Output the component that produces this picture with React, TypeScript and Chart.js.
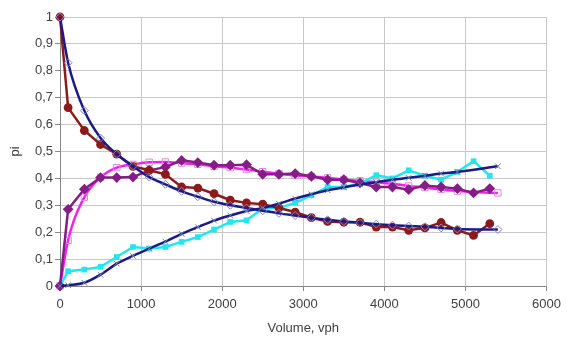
import React, { useEffect, useRef } from "react";
import { Chart, registerables } from "chart.js";

Chart.register(...registerables);

// Observed volumes (vph)
const X_OBS = [0, 100, 300, 500, 700, 900, 1100, 1300, 1500, 1700, 1900, 2100, 2300, 2500, 2700, 2900, 3100, 3300, 3500, 3700, 3900, 4100, 4300, 4500, 4700, 4900, 5100, 5300];
// Model volumes (vph)
const X_MODEL = [0, 100, 300, 500, 700, 900, 1100, 1300, 1500, 1700, 1900, 2100, 2300, 2500, 2700, 2900, 3100, 3300, 3500, 3700, 3900, 4100, 4300, 4500, 4700, 4900, 5400];

const OBS_MAROON = [1, 0.663, 0.578, 0.526, 0.49, 0.445, 0.43, 0.415, 0.368, 0.364, 0.343, 0.319, 0.309, 0.304, 0.29, 0.275, 0.254, 0.24, 0.237, 0.237, 0.219, 0.219, 0.207, 0.216, 0.236, 0.207, 0.188, 0.232];
const OBS_PURPLE = [0, 0.285, 0.36, 0.403, 0.403, 0.405, 0.43, 0.442, 0.467, 0.459, 0.449, 0.449, 0.451, 0.415, 0.415, 0.418, 0.408, 0.395, 0.395, 0.383, 0.368, 0.368, 0.358, 0.374, 0.368, 0.362, 0.346, 0.362];
const OBS_CYAN = [0, 0.055, 0.061, 0.071, 0.108, 0.145, 0.139, 0.145, 0.164, 0.182, 0.21, 0.238, 0.244, 0.288, 0.29, 0.309, 0.337, 0.368, 0.368, 0.381, 0.412, 0.4, 0.43, 0.41, 0.395, 0.424, 0.464, 0.41];

const MODEL_DOWN = [1, 0.83, 0.652, 0.55, 0.49, 0.445, 0.405, 0.378, 0.352, 0.332, 0.313, 0.3, 0.29, 0.28, 0.27, 0.262, 0.254, 0.246, 0.24, 0.235, 0.23, 0.226, 0.223, 0.22, 0.216, 0.212, 0.21];
const MODEL_UP = [0, 0.003, 0.012, 0.042, 0.083, 0.112, 0.139, 0.165, 0.194, 0.219, 0.243, 0.262, 0.279, 0.29, 0.306, 0.325, 0.341, 0.356, 0.367, 0.377, 0.386, 0.395, 0.402, 0.41, 0.418, 0.424, 0.445];
const MODEL_MAGENTA = [0, 0.17, 0.33, 0.404, 0.44, 0.452, 0.46, 0.461, 0.457, 0.452, 0.445, 0.44, 0.433, 0.425, 0.418, 0.411, 0.407, 0.402, 0.396, 0.391, 0.386, 0.38, 0.372, 0.366, 0.359, 0.353, 0.346];

const X_TICKS = [0, 1000, 2000, 3000, 4000, 5000, 6000];
const Y_TICKS = [0, 0.1, 0.2, 0.3, 0.4, 0.5, 0.6, 0.7, 0.8, 0.9, 1];

const pts = (xs: number[], ys: number[]) => xs.map((x, i) => ({ x, y: ys[i] }));

const FONT = "'Liberation Sans', Arial, sans-serif";

export default function App() {
  const ref = useRef<HTMLCanvasElement | null>(null);
  useEffect(() => {
    if (!ref.current) return;
    const chart = new Chart(ref.current, {
      type: "line",
      data: {
        datasets: [
          {
            data: pts(X_MODEL, MODEL_DOWN),
            borderColor: "#1c1a84",
            borderWidth: 2.5,
            pointStyle: "rectRot",
            pointRadius: 4,
            pointBorderColor: "#7f84c8",
            pointBackgroundColor: "rgba(255,255,255,0)",
            pointBorderWidth: 1,
            cubicInterpolationMode: "monotone",
            clip: false,
            order: 1,
          },
          {
            data: pts(X_MODEL, MODEL_UP),
            borderColor: "#1c1a84",
            borderWidth: 2.5,
            pointStyle: "crossRot",
            pointRadius: 4,
            pointBorderColor: "#6f7fa8",
            pointBorderWidth: 1,
            cubicInterpolationMode: "monotone",
            clip: false,
            order: 2,
          },
          {
            data: pts(X_OBS, OBS_MAROON),
            borderColor: "#8c1a1a",
            borderWidth: 2.5,
            pointStyle: "circle",
            pointRadius: 4.4,
            pointBackgroundColor: "#8c1a1a",
            pointBorderColor: "#8c1a1a",
            pointBorderWidth: 0,
            tension: 0,
            clip: false,
            order: 3,
          },
          {
            data: pts(X_OBS, OBS_PURPLE),
            borderColor: "#861d86",
            borderWidth: 2.5,
            pointStyle: "rectRot",
            pointRadius: 5.4,
            pointBackgroundColor: "#861d86",
            pointBorderColor: "#861d86",
            pointBorderWidth: 0,
            tension: 0,
            clip: false,
            order: 4,
          },
          {
            data: pts(X_OBS, OBS_CYAN),
            borderColor: "#22e6ee",
            borderWidth: 2.5,
            pointStyle: "rect",
            pointRadius: 4,
            pointBackgroundColor: "#22e6ee",
            pointBorderColor: "#22e6ee",
            pointBorderWidth: 0,
            tension: 0,
            clip: false,
            order: 5,
          },
          {
            data: pts(X_MODEL, MODEL_MAGENTA),
            borderColor: "#f020f0",
            borderWidth: 2.5,
            pointStyle: "rect",
            pointRadius: 4.5,
            pointBackgroundColor: "rgba(255,255,255,0)",
            pointBorderColor: "#d98ad9",
            pointBorderWidth: 1,
            cubicInterpolationMode: "monotone",
            clip: false,
            order: 6,
          },
        ],
      },
      options: {
        animation: false,
        responsive: false,
        maintainAspectRatio: false,
        layout: { padding: { top: 17, right: 16, left: 0, bottom: 0 } },
        plugins: { legend: { display: false }, tooltip: { enabled: false } },
        scales: {
          x: {
            type: "linear",
            min: 0,
            max: 6000,
            afterBuildTicks: (s: any) => {
              s.ticks = X_TICKS.map((v) => ({ value: v }));
            },
            afterFit: (s: any) => {
              s.height = 52;
            },
            ticks: {
              color: "#404040",
              font: { family: FONT, size: 13 },
              padding: 6,
              maxRotation: 0,
              callback: (v: any) => String(v),
            },
            grid: { color: "#c8c8c8", lineWidth: 1, tickLength: 5, tickColor: "#888888" },
            border: { color: "#888888", width: 1 },
            title: {
              display: true,
              text: "Volume, vph",
              color: "#404040",
              font: { family: FONT, size: 13 },
              padding: { top: 0, bottom: 2 },
            },
          },
          y: {
            type: "linear",
            min: 0,
            max: 1,
            afterBuildTicks: (s: any) => {
              s.ticks = Y_TICKS.map((v) => ({ value: v }));
            },
            afterFit: (s: any) => {
              s.width = 60;
            },
            ticks: {
              color: "#404040",
              font: { family: FONT, size: 13 },
              padding: 2,
              callback: (v: any) => {
                const n = Math.round(Number(v) * 10) / 10;
                return String(n).replace(".", ",");
              },
            },
            grid: { color: "#c8c8c8", lineWidth: 1, tickLength: 5, tickColor: "#888888" },
            border: { color: "#888888", width: 1 },
            title: {
              display: true,
              text: "pi",
              color: "#404040",
              font: { family: FONT, size: 13 },
              padding: { top: 8, bottom: 0 },
            },
          },
        },
      },
    });
    return () => chart.destroy();
  }, []);
  return (
    <div style={{ position: "fixed", left: 0, top: 0, width: 567, height: 338, background: "#ffffff" }}>
      <canvas ref={ref} width={567} height={338} style={{ width: 567, height: 338, display: "block" }} />
    </div>
  );
}
